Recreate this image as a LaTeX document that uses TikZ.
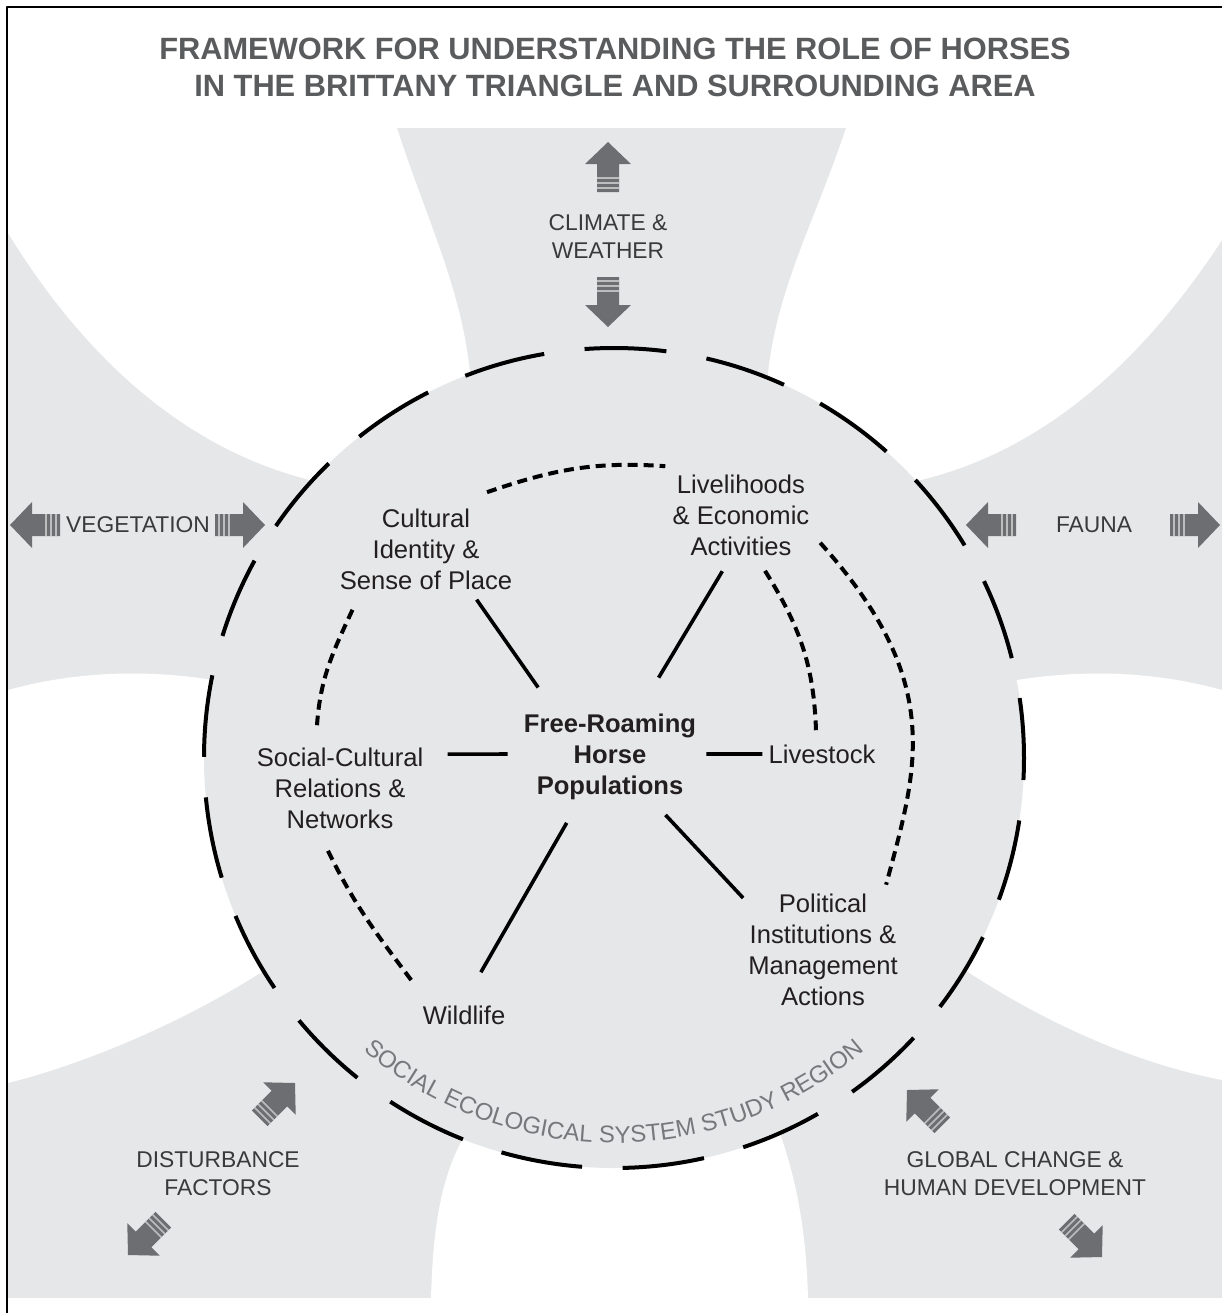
\documentclass[tikz,border=0pt]{standalone}
\usepackage{fontspec}
\setmainfont{Liberation Sans}
\usetikzlibrary{decorations.text}
\definecolor{bggrey}{HTML}{E6E7E8}
\definecolor{arrowgrey}{HTML}{6D6E71}
\definecolor{titlegrey}{HTML}{5A5B5D}
\definecolor{inkgrey}{HTML}{231F20}
\definecolor{labelgrey}{HTML}{3A3A3C}
\definecolor{ringgrey}{HTML}{77787B}
\newcommand{\fatarrow}[2]{%
	\begin{scope}[shift={#1}, rotate=#2]
		\fill[arrowgrey] (0,0)--(-22,23)--(-22,11)--(-50,11)--(-50,-11)--(-22,-11)--(-22,-23)--cycle;
		\foreach \s in {-46,-41,-36} \draw[white, opacity=.55, line width=.8pt] (\s,-11)--(\s,11);
	\end{scope}}
\newcommand{\ringfont}{\fontsize{12}{14}\selectfont}
\begin{document}
\begin{tikzpicture}[x=.5pt, y=-.5pt, line join=round,
	box/.style={align=center, inner sep=0pt, text=inkgrey, font=\fontsize{12.8}{15.5}\selectfont},
	tag/.style={align=center, inner sep=0pt, text=labelgrey, font=\fontsize{11.4}{14}\selectfont},
	link/.style={line width=1.8pt, line cap=butt},
	weak/.style={line width=2pt, dash pattern=on 5pt off 3pt}]
		\useasboundingbox (0,0) rectangle (1222,1313);
		\fill[bggrey] (8,128) rectangle (1222,1298);
		\fill[white] (8,128)--(397,128) .. controls (430,230) and (468,300) .. (472,400)--(318,482)
		.. controls (180,450) and (80,350) .. (8,233)--cycle;
		\fill[white] (1222,128)--(846,128) .. controls (812,230) and (770,300) .. (766,400)--(912,482)
		.. controls (1050,452) and (1150,350) .. (1222,240)--cycle;
		\fill[white] (8,690) .. controls (80,670) and (160,668) .. (240,685)--(268,968)
		.. controls (180,1025) and (80,1065) .. (8,1083)--cycle;
		\fill[white] (1222,690) .. controls (1150,670) and (1070,668) .. (990,685)--(962,968)
		.. controls (1040,1020) and (1130,1062) .. (1222,1080)--cycle;
		\fill[white] (431,1298) .. controls (433,1220) and (443,1170) .. (468,1130)--(614,1120)--(778,1128)
		.. controls (795,1175) and (806,1225) .. (808,1298)--cycle;
		\draw[line width=1pt] (7,1313)--(7,7)--(1222,7);
		\coordinate (sec) at (614,758);
		\fill[bggrey] (sec) circle (410);
		\draw[line width=2pt, dash pattern=on 41pt off 20.34pt, dash phase=30pt] (sec) circle (410);
		\path[decorate, decoration={text along path, text align=center, text color=ringgrey,
			text={|\ringfont|SOCIAL ECOLOGICAL SYSTEM STUDY REGION}}]
		(sec) ++(132:385) arc[start angle=132, end angle=48, radius=385];
		\node[align=center, text=titlegrey, font=\bfseries\fontsize{15.4}{18.5}\selectfont] (title) at (615,67)
		{FRAMEWORK FOR UNDERSTANDING THE ROLE OF HORSES\\IN THE BRITTANY TRIANGLE AND SURROUNDING AREA};
		\node[tag] (climate) at (608,237) {CLIMATE \&\\WEATHER};
		\node[tag] (veg) at (138,525) {VEGETATION};
		\node[tag] (fauna) at (1094,525) {FAUNA};
		\node[tag] (disturb) at (218,1174) {DISTURBANCE\\FACTORS};
		\node[tag] (global) at (1015,1174) {GLOBAL CHANGE \&\\HUMAN DEVELOPMENT};
		\foreach \x/\y/\a in {608/142/90, 608/327/-90, 10/525/180, 265/525/0, 966/525/180, 1220/525/0,
			295/1083/45, 128/1255/225, 907/1090/135, 1102/1257/-45}
		\fatarrow{(\x,\y)}{\a};
		\node[box, font=\bfseries\fontsize{12.8}{15.5}\selectfont] (horse) at (610,757) {Free-Roaming\\Horse\\Populations};
		\node[box] (culture) at (426,549) {Cultural\\Identity \&\\Sense of Place};
		\node[box] (liveli) at (741,515) {Livelihoods\\\& Economic\\Activities};
		\node[box] (social) at (340,788) {Social-Cultural\\Relations \&\\Networks};
		\node[box] (stock) at (822,754) {Livestock};
		\node[box] (wild) at (464,1015) {Wildlife};
		\node[box] (policy) at (823,950) {Political\\Institutions \&\\Management\\Actions};
		\draw[link, shorten <=6pt, shorten >=16pt] (culture.-43)--(horse.141);
		\draw[link, shorten <=9pt, shorten >=21pt] (liveli.-103)--(horse.58);
		\draw[link, shorten <=12pt, shorten >=8pt] (social.22)--(horse.178);
		\draw[link, shorten <=5pt, shorten >=3pt] (horse.2)--(stock.180);
		\draw[link, shorten <=19pt, shorten >=13pt] (wild.102)--(horse.-125);
		\draw[link, shorten <=10pt, shorten >=3.5pt] (horse.-46)--(policy.148);
		\draw[weak] ([shift={(61,-16)}]culture.north) to[out=19, in=176] ([shift={(-7,-8)}]liveli.north west);
		\draw[weak] ([shift={(13,20)}]culture.south west) to[out=245, in=86] ([shift={(-23,-22)}]social.north);
		\draw[weak] ([shift={(-12,22)}]social.south) to[out=-64, in=127] ([shift={(-9.5,-23)}]wild.north west);
		\draw[weak] ([shift={(24,15)}]liveli.south) to[out=-58, in=92] ([shift={(-6,-14)}]stock.north);
		\draw[weak] ([shift={(10.5,-13)}]liveli.south east) to[out=-48, in=75, out distance=94pt, in distance=60pt]
		([shift={(-12,-9)}]policy.north east);
	\end{tikzpicture}
\end{document}
